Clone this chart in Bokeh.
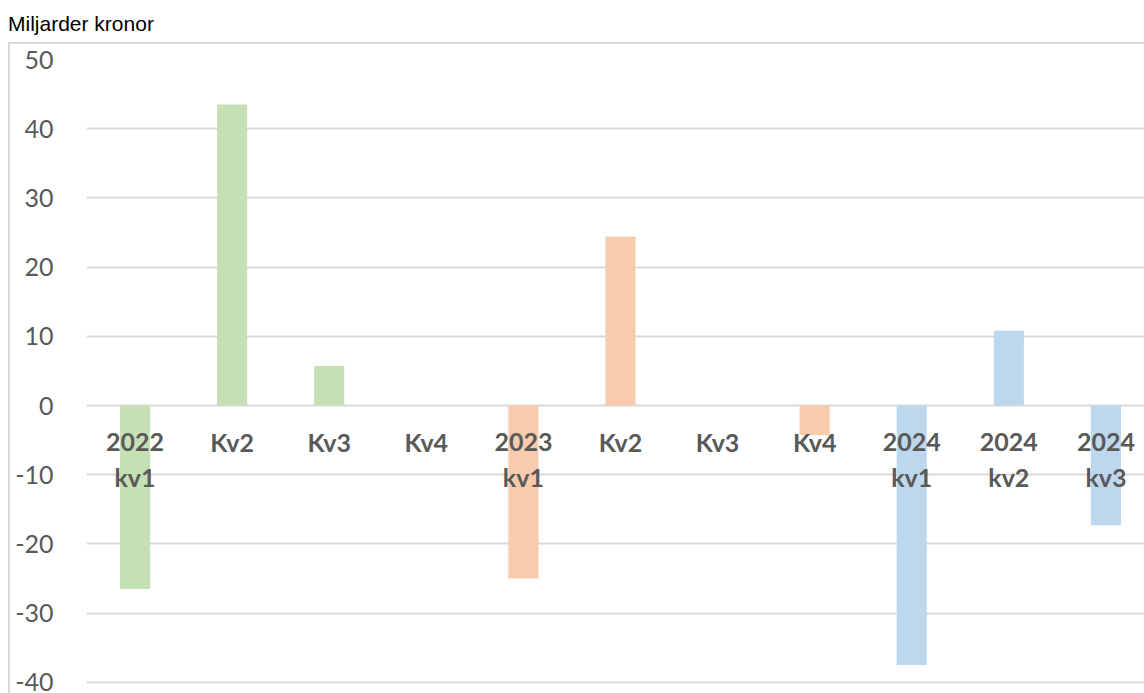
from bokeh.plotting import figure
from bokeh.models import ColumnDataSource, Range1d, FixedTicker, Div, PrintfTickFormatter
from bokeh.layouts import column
from bokeh.core.properties import value
from bokeh.embed import file_html
from bokeh.resources import INLINE

# ---- data ----
title_text = "Miljarder kronor"
label_top = ["2022", "Kv2", "Kv3", "Kv4", "2023", "Kv2", "Kv3", "Kv4", "2024", "2024", "2024"]
label_bottom = ["kv1", "", "", "", "kv1", "", "", "", "kv1", "kv2", "kv3"]
years = [2022, 2022, 2022, 2022, 2023, 2023, 2023, 2023, 2024, 2024, 2024]
values = [-26.5, 43.5, 5.7, 0.0, -25.0, 24.4, 0.0, -4.3, -37.5, 10.8, -17.3]
y_ticks = [-40, -30, -20, -10, 0, 10, 20, 30, 40, 50]
year_colors = {2022: "#c5e0b4", 2023: "#f8cbad", 2024: "#bdd7ee"}

n = len(values)
source = ColumnDataSource(dict(
    x=[i + 0.5 for i in range(n)],
    value=values,
    base=[0.0] * n,
    top_label=label_top,
    bottom_label=label_bottom,
    color=[year_colors[y] for y in years],
))

GRAY = "#595959"
GRID = "#d9d9d9"

p = figure(
    width=1136, height=651,
    x_range=Range1d(0, 10.918), y_range=Range1d(-41.9, 50),
    output_backend="svg", toolbar_location=None,
    min_border_left=76, min_border_top=15, min_border_bottom=0, min_border_right=0,
    background_fill_color="white", border_fill_color="white",
    margin=(0, 0, 0, 8),
    styles={"border-left": "2px solid #d9d9d9", "border-top": "2px solid #d9d9d9",
            "box-sizing": "border-box"},
)
p.outline_line_color = None
p.xaxis.visible = False
p.xgrid.grid_line_color = None

p.yaxis.ticker = FixedTicker(ticks=y_ticks)
p.yaxis.formatter = PrintfTickFormatter(format="%d")
p.yaxis.axis_line_color = None
p.yaxis.major_tick_line_color = None
p.yaxis.minor_tick_line_color = None
p.yaxis.major_tick_out = 0
p.yaxis.major_tick_in = 0
p.yaxis.major_label_standoff = 33
p.yaxis.major_label_text_font = "Lato"
p.yaxis.major_label_text_font_size = "25px"
p.yaxis.major_label_text_color = GRAY

p.ygrid.ticker = FixedTicker(ticks=y_ticks)
p.ygrid.grid_line_color = GRID
p.ygrid.grid_line_width = 2

p.vbar(x="x", top="value", bottom="base", width=0.31, source=source,
       fill_color="color", line_color=None)

p.text(x="x", y="base", text="top_label", source=source, y_offset=36.5,
       text_align="center", text_baseline="middle",
       text_font=value("Lato"), text_font_style="bold", text_font_size="25px",
       text_color=GRAY)
p.text(x="x", y="base", text="bottom_label", source=source, y_offset=71,
       text_align="center", text_baseline="middle",
       text_font=value("Lato"), text_font_style="bold", text_font_size="25px",
       text_color=GRAY)

title = Div(text=title_text, width=400, height=42, margin=0,
            styles={"font-family": "Liberation Sans", "font-size": "21px",
                    "color": "#000000", "padding-left": "8px",
                    "line-height": "48px"})

layout = column(title, p, spacing=0)

open("out.html", "w").write(file_html(layout, INLINE))
